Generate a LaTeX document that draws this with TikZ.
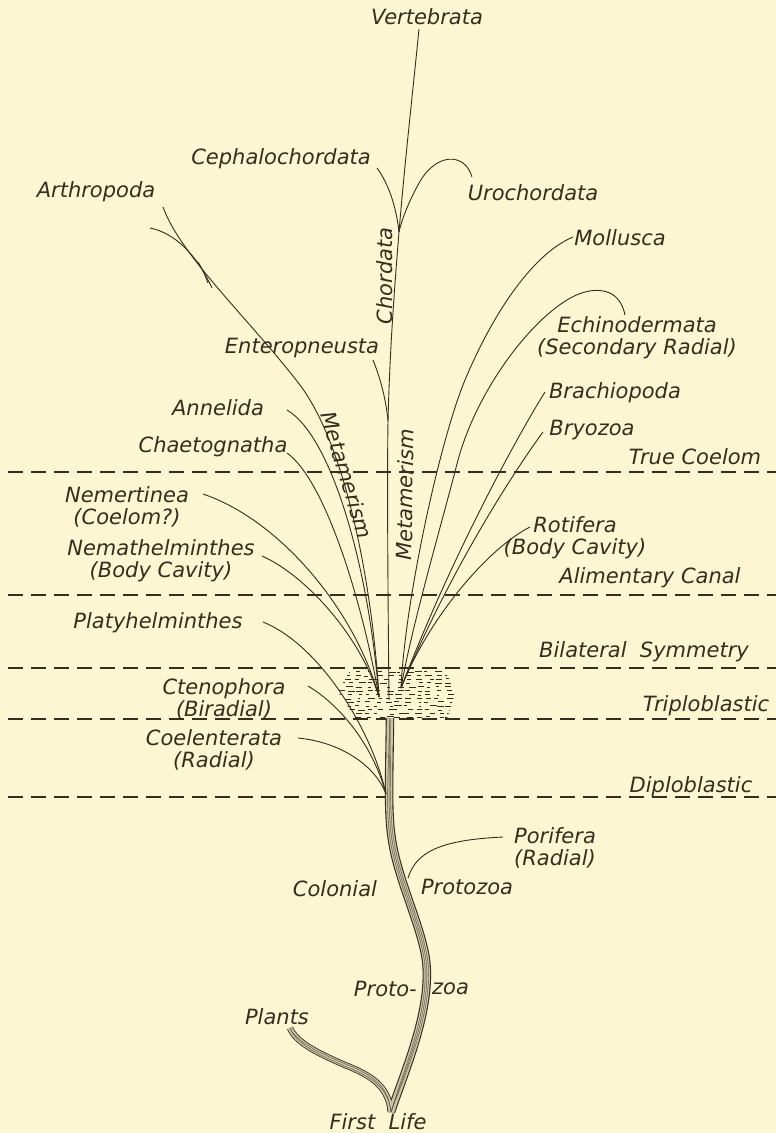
\documentclass[tikz,border=0pt]{standalone}
\usepackage{fontspec}
\setmainfont{DejaVu Sans}
\definecolor{bg}{RGB}{252,246,210}
\definecolor{ink}{RGB}{55,45,30}
\begin{document}
\begin{tikzpicture}[x=1pt,y=-1pt,
  lbl/.style={font=\fontsize{21pt}{22pt}\selectfont\itshape, text=ink, inner sep=0pt, align=center},
  br/.style={draw=ink, line width=0.9pt},
  zone/.style={draw=ink, line width=1.1pt, dash pattern=on 15pt off 8pt},
  stemout/.style={draw=ink, line width=8.5pt},
  stemin/.style={draw=bg!75!ink, line width=6.3pt},
  stemhatch/.style={draw=ink!80, line width=0.45pt},
  fleck/.style={draw=ink, line width=0.55pt},
]
\fill[bg] (0,0) rectangle (776,1133);
\useasboundingbox (0,0) rectangle (776,1133);

% ---------- level lines ----------
\foreach \yy/\nm in {472/tc,595/ac,668/bs,719/tr,797/di}{
  \coordinate (\nm-l) at (8,\yy);
  \coordinate (\nm-r) at (776,\yy);
  \draw[zone] (\nm-l) -- (\nm-r);
}

% ---------- labels ----------
\node[lbl] (vert) at (427,17) {Vertebrata};
\node[lbl] (ceph) at (281,159) {Cephalochordata};
\node[lbl] (uro) at (533,193) {Urochordata};
\node[lbl] (arth) at (96,192) {Arthropoda};
\node[lbl] (moll) at (620,238) {Mollusca};
\node[lbl] (echi) at (637,338) {Echinodermata\\(Secondary Radial)};
\node[lbl] (brac) at (615,393) {Brachiopoda};
\node[lbl] (bryo) at (592,430) {Bryozoa};
\node[lbl] (tcl) at (695,457) {True Coelom};
\node[lbl] (ente) at (302,348) {Enteropneusta};
\node[lbl] (anne) at (218,408) {Annelida};
\node[lbl] (chae) at (213,447) {Chaetognatha};
\node[lbl] (neme) at (127,507) {Nemertinea\\(Coelom?)};
\node[lbl] (roti) at (575,538) {Rotifera\\(Body Cavity)};
\node[lbl] (nmth) at (161,561) {Nemathelminthes\\(Body Cavity)};
\node[lbl] (acl) at (650,578) {Alimentary Canal};
\node[lbl] (plat) at (158,623) {Platyhelminthes};
\node[lbl] (bsl) at (644,652) {Bilateral\ \ Symmetry};
\node[lbl] (cten) at (224,699) {Ctenophora\\(Biradial)};
\node[lbl] (trl) at (706,706) {Triploblastic};
\node[lbl] (coel) at (214,750) {Coelenterata\\(Radial)};
\node[lbl] (dil) at (691,787) {Diploblastic};
\node[lbl] (pori) at (555,848) {Porifera\\(Radial)};
\node[lbl] (prot) at (467,887) {Protozoa};
\node[lbl] (colo) at (335,889) {Colonial};
\node[lbl, anchor=east] (pro1) at (417,989) {Proto-};
\node[lbl, anchor=west] (pro2) at (432,989) {zoa};
\node[lbl] (plan) at (277,1017) {Plants};
\node[lbl] (firs) at (378,1122) {First\ \ Life};
\node[lbl, rotate=90] (chor) at (385,276) {Chordata};
\node[lbl, rotate=-73] (met1) at (347,475) {Metamerism};
\node[lbl, rotate=89] (met2) at (405,495) {Metamerism};

% ---------- key points ----------
\coordinate (fl) at (391,1112);
\coordinate (st) at (390,718);
\coordinate (pl) at (290,1028);
\coordinate (por) at (408,878);
\coordinate (porT) at (503,837);
\coordinate (dip) at (386,794);
\coordinate (fanL) at (379,697);
\coordinate (fanC) at (389,700);
\coordinate (fanR) at (401,688);
\coordinate (arthT) at (163,207);
\coordinate (arthF) at (150,228);
\coordinate (arthS) at (198,262);
\coordinate (cephT) at (377,168);
\coordinate (uroT) at (472,177);
\coordinate (vertT) at (419,29);
\coordinate (chJ) at (399,232);
\coordinate (entJ) at (388,421);
\coordinate (entT) at (373,360);
\coordinate (annT) at (287,410);
\coordinate (chaT) at (287,453);
\coordinate (nemT) at (203,494);
\coordinate (nmhT) at (262,556);
\coordinate (molT) at (573,237);
\coordinate (echT) at (625,315);
\coordinate (braT) at (545,392);
\coordinate (bryT) at (543,432);
\coordinate (rotT) at (530,527);
\coordinate (plaT) at (263,622);
\coordinate (cteT) at (308,686);
\coordinate (coeT) at (298,738);

% ---------- stem and plants ----------
\foreach \s in {stemout,stemin}{
  \draw[\s] (fl) .. controls (405,1070) and (432,1010) .. (426,960)
        .. controls (421,925) and (398,880) .. (392,840)
        .. controls (388,815) and (389,790) .. (st);
  \draw[\s, line width=0.75*\pgflinewidth] (fl) .. controls (388,1085) and (370,1075) .. (345,1065)
        .. controls (315,1052) and (296,1042) .. (pl);
}
\foreach \dx in {-1.7,0,1.7}{
  \draw[stemhatch, xshift=\dx pt] (fl) .. controls (405,1070) and (432,1010) .. (426,960)
        .. controls (421,925) and (398,880) .. (392,840)
        .. controls (388,815) and (389,790) .. (st);
}
\foreach \dy in {-1.2,1.2}{
  \draw[stemhatch, yshift=\dy pt] (fl) .. controls (388,1085) and (370,1075) .. (345,1065)
        .. controls (315,1052) and (296,1042) .. (pl);
}

% ---------- lower branches ----------
\draw[br] (por) .. controls (416,852) and (440,840) .. (porT);
\draw[br] (plaT) .. controls (320,645) and (372,730) .. (dip);
\draw[br] (cteT) .. controls (340,705) and (373,745) .. (dip);
\draw[br] (coeT) .. controls (340,742) and (375,765) .. (dip);

% ---------- chordate trunk ----------
\draw[br] (fanC) .. controls (388,600) and (387,480) .. (entJ)
   .. controls (390,340) and (396,270) .. (chJ)
   .. controls (405,160) and (413,90) .. (vertT);
\draw[br] (cephT) .. controls (388,183) and (396,205) .. (chJ);
\draw[br] (uroT) .. controls (465,152) and (435,152) .. (418,185)
   .. controls (408,203) and (401,222) .. (chJ);
\draw[br] (entT) .. controls (381,380) and (386,400) .. (entJ);

% ---------- left fan ----------
\draw[br] (arthT) .. controls (180,255) and (250,320) .. (300,385)
   .. controls (345,445) and (372,580) .. (fanL);
\draw[br] (arthF) .. controls (175,233) and (197,255) .. (212,288);
\draw[br] (arthS) .. controls (202,268) and (205,275) .. (208,283);
\draw[br] (annT) .. controls (330,435) and (368,560) .. (fanL);
\draw[br] (chaT) .. controls (325,480) and (362,600) .. (fanL);
\draw[br] (nemT) .. controls (280,520) and (355,610) .. (fanL);
\draw[br] (nmhT) .. controls (305,575) and (360,635) .. (fanL);

% ---------- right fan ----------
\draw[br] (molT) .. controls (530,255) and (490,320) .. (465,380)
   .. controls (440,440) and (405,600) .. (fanR);
\draw[br] (echT) .. controls (620,290) and (600,288) .. (585,292)
   .. controls (545,302) and (480,380) .. (458,460)
   .. controls (440,530) and (412,625) .. (fanR);
\draw[br] (braT) .. controls (515,440) and (450,560) .. (fanR);
\draw[br] (bryT) .. controls (515,470) and (450,570) .. (fanR);
\draw[br] (rotT) .. controls (490,547) and (430,615) .. (fanR);

% ---------- stippled blob ----------
\pgfmathsetseed{11}
\begin{scope}
  \clip (352,667) -- (442,667) -- (456,690) -- (447,719) -- (356,719) -- (338,692) -- cycle;
  \foreach \r in {0,...,12}{
    \foreach \k in {0,...,12}{
      \pgfmathsetmacro\yy{671+3.8*\r+rnd*1.2}
      \pgfmathsetmacro\xx{334+\k*10+rnd*6}
      \pgfmathsetmacro\ll{2.5+rnd*5}
      \draw[fleck] (\xx,\yy) -- ++(\ll,0);
    }
  }
\end{scope}
\end{tikzpicture}
\end{document}
